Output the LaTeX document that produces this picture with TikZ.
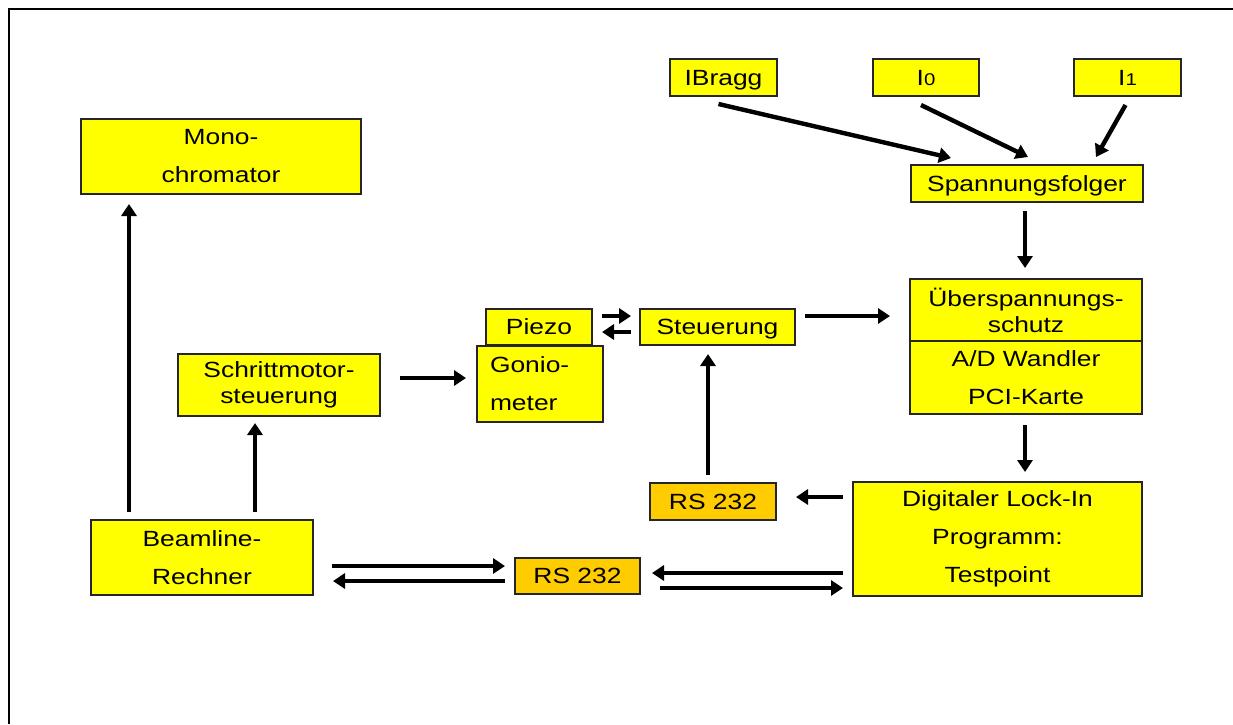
\documentclass[tikz,border=0pt]{standalone}
\usepackage{fontspec}
\setmainfont[FakeStretch=1.2]{Liberation Sans}
\usepackage{tikz}
\usetikzlibrary{positioning,arrows.meta}

\definecolor{boxyellow}{HTML}{FFFF00}
\definecolor{rsorange}{HTML}{FFCC00}

\newcommand{\idx}[1]{{\fontsize{8.5}{8.5}\selectfont #1}}

\begin{document}
\begin{tikzpicture}
[x=0.5pt, y=-0.5pt,
box/.style={rectangle, draw=black!85, line width=0.6pt, fill=boxyellow, inner sep=0pt, outer sep=0pt, align=center, font=\fontsize{11}{19}\selectfont},
onebox/.style={box, text height=10pt, text depth=2.3pt},
tightbox/.style={box, font=\fontsize{11}{13}\selectfont},
rsbox/.style={onebox, fill=rsorange},
arr/.style={-{Triangle[length=6pt, width=7.5pt]}, line width=2.2pt},
]
\useasboundingbox (0,0) rectangle (1233,724);
\draw[line width=1pt] (9,724) -- (9,9) -- (1233,9);

% left column
\node[box, minimum width=140pt, minimum height=37.5pt]	(mono) at (221,156.5) {Mono-\\chromator};
\node[tightbox, minimum width=101pt, minimum height=31pt]	(schritt) at (279,385) {Schrittmotor-\\steuerung};
\node[box, minimum width=111pt, minimum height=37.5pt]	(beam) at (202,557.5) {Beamline-\\Rechner};

% goniometer with piezo and its control
\node[onebox, minimum width=53pt, minimum height=18pt]	(piezo) at (539,327) {Piezo};
\node[box, text width=50pt, inner xsep=6.5pt, align=left, minimum height=38pt]	(gonio) at (540,384) {Gonio-\\meter};
\node[onebox, minimum width=77.5pt, minimum height=18pt]	(steu) at (717.5,327) {Steuerung};

% detector inputs
\node[onebox, minimum width=53.5pt, minimum height=18.5pt]	(ibragg) at (723.5,77.5) {IBragg};
\node[onebox, minimum width=53pt, minimum height=18.5pt]	(izero) at (926,77.5) {I\idx{0}};
\node[onebox, minimum width=53.5pt, minimum height=18.5pt]	(ione) at (1127.5,77.5) {I\idx{1}};
\node[onebox, minimum width=116pt, minimum height=18.5pt]	(spf) at (1027,183.5) {Spannungsfolger};

% data acquisition
\node[tightbox, minimum width=116pt, minimum height=31pt]	(schutz) at (1026,310) {Überspannungs-\\schutz};
\node[box, minimum width=116pt, minimum height=36.5pt]	(adw) [below=0pt of schutz] {A/D Wandler\\PCI-Karte};
\node[box, minimum width=144.5pt, minimum height=57pt]	(lockin) at (997.5,539) {Digitaler Lock-In\\Programm:\\Testpoint};

% serial links
\node[rsbox, minimum width=63pt, minimum height=18.5pt]	(rstop) at (713,501.5) {RS 232};
\node[rsbox, minimum width=62.5pt, minimum height=18pt]	(rsbot) at (577.5,576) {RS 232};

\draw[arr] ([xshift=-2.5pt, yshift=-4pt]ibragg.south) -- ([xshift=-38pt, yshift=3.5pt]spf.north);
\draw[arr] ([xshift=-2.5pt, yshift=-4.5pt]izero.south) -- ([xshift=0.5pt, yshift=4pt]spf.north);
\draw[arr] ([xshift=-1pt, yshift=-4.5pt]ione.south) -- ([xshift=34.5pt, yshift=4pt]spf.north);
\draw[arr, shorten <=4.5pt, shorten >=5.5pt] ([xshift=-1pt]spf.south) -- ([xshift=-1pt]spf.south |- schutz.north);
\draw[arr, shorten <=5.5pt, shorten >=5pt] ([xshift=-0.5pt]adw.south) -- ([xshift=-0.5pt]adw.south |- lockin.north);

\draw[arr, shorten <=4pt, shorten >=5pt] ([xshift=-36.5pt]beam.north) -- ([xshift=-36.5pt]beam.north |- mono.south);
\draw[arr, shorten <=4pt, shorten >=3.5pt] ([xshift=26.5pt]beam.north) -- ([xshift=26.5pt]beam.north |- schritt.south);
\draw[arr, shorten <=10pt, shorten >=5.5pt] ([yshift=3.5pt]schritt.east) -- ([yshift=3.5pt]schritt.east -| gonio.west);

\draw[arr, shorten <=5pt, shorten >=4.5pt] ([yshift=5.5pt]piezo.east) -- ([yshift=5.5pt]piezo.east -| steu.west);
\draw[arr, shorten <=4.5pt, shorten >=5pt] ([yshift=-2.5pt]steu.west) -- ([yshift=-2.5pt]steu.west -| piezo.east);
\draw[arr, shorten <=5pt, shorten >=10pt] ([yshift=5.5pt]steu.east) -- ([yshift=5.5pt]steu.east -| schutz.west);

\draw[arr, shorten <=4pt, shorten >=4.5pt] ([xshift=-2.5pt]rstop.north) -- ([xshift=-2.5pt]rstop.north |- steu.south);
\draw[arr, shorten <=5pt, shorten >=10pt] ([yshift=2.25pt]lockin.west |- rstop.east) -- ([yshift=2.25pt]rstop.east);

\draw[arr, shorten <=9.5pt, shorten >=5pt] ([yshift=-4.25pt]beam.east) -- ([yshift=-4.25pt]beam.east -| rsbot.west);
\draw[arr, shorten <=5pt, shorten >=10pt] ([yshift=-11.75pt]beam.east -| rsbot.west) -- ([yshift=-11.75pt]beam.east);
\draw[arr, shorten <=5pt, shorten >=6pt] ([yshift=-17pt]lockin.west) -- ([yshift=-17pt]lockin.west -| rsbot.east);
\draw[arr, shorten <=10pt, shorten >=5pt] ([yshift=-24.5pt]lockin.west -| rsbot.east) -- ([yshift=-24.5pt]lockin.west);
\end{tikzpicture}
\end{document}
